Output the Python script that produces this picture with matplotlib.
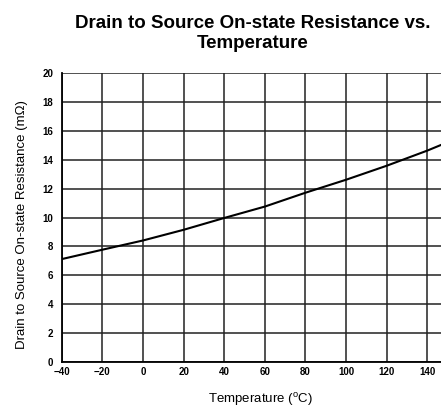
import matplotlib
matplotlib.use("Agg")
import matplotlib.pyplot as plt

# curve
temp_c = [-40, -20, 0, 20, 40, 60, 80, 100, 120, 140, 150]
rds_on_mohm = [7.12, 7.77, 8.41, 9.15, 9.97, 10.76, 11.72, 12.62, 13.59, 14.64, 15.22]

x_ticks = [-40, -20, 0, 20, 40, 60, 80, 100, 120, 140]
y_ticks = [0, 2, 4, 6, 8, 10, 12, 14, 16, 18, 20]

plt.rcParams["font.family"] = ["Liberation Sans", "DejaVu Sans"]
plt.rcParams["mathtext.fontset"] = "custom"
plt.rcParams["mathtext.rm"] = "Liberation Sans"

fig = plt.figure(figsize=(4.41, 4.07), dpi=100)
ax = fig.add_axes([0.140, 0.111, 0.875, 0.709])

ax.plot(temp_c, rds_on_mohm, color="black", lw=1.5, zorder=3)

ax.set_xlim(-40, 150)
ax.set_ylim(0, 20)
ax.set_xticks(x_ticks)
ax.set_yticks(y_ticks)
ax.grid(True, color="#222222", lw=1.1)
ax.tick_params(length=0, labelsize=7)
ax.tick_params(axis="y", pad=6)
ax.tick_params(axis="x", pad=4)
for lbl in ax.get_xticklabels() + ax.get_yticklabels():
    lbl.set_fontweight("bold")
for side in ("top", "right"):
    ax.spines[side].set_visible(False)
for side in ("left", "bottom"):
    ax.spines[side].set_linewidth(1.3)

ax.set_xlabel(r"Temperature ($^{\rm o}$C)", fontsize=9.5)
ax.set_ylabel("Drain to Source On-state Resistance (m\u03a9)", fontsize=9.5)
ax.xaxis.set_label_coords((260 - 61.7) / (0.875 * 441), -0.102)
ax.yaxis.set_label_coords(-0.0886, 0.474)

fig.text(253 / 441, 0.963, "Drain to Source On-state Resistance vs.\nTemperature",
         ha="center", va="top", fontsize=13.5, fontweight="bold", linespacing=1.23)

fig.savefig("out.png", dpi=100)
